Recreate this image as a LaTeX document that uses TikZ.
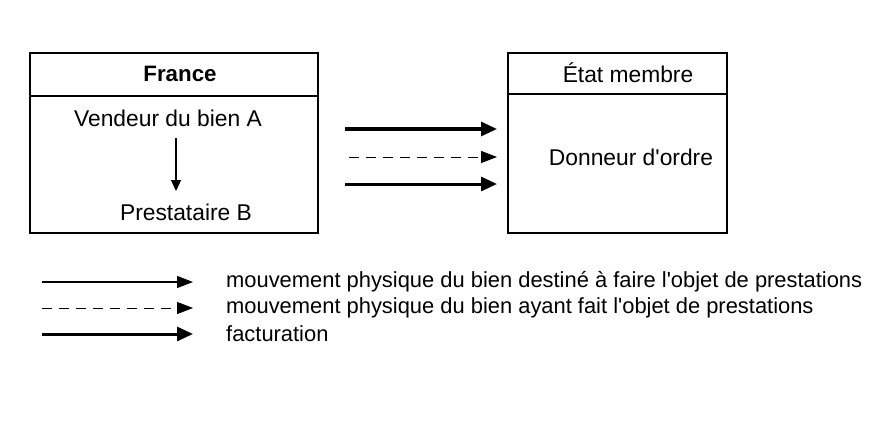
\documentclass[tikz,border=0pt]{standalone}
\usepackage{fontspec}
\setmainfont{Liberation Sans}
\usetikzlibrary{arrows.meta}

\tikzset{
  lbl/.style={inner sep=0pt, font=\fontsize{22.8}{26}\selectfont},
  leglbl/.style={inner sep=0pt, anchor=west, font=\fontsize{21.9}{26}\selectfont},
  thinarrow/.style={line width=1.2pt, -{Triangle[length=16pt,width=12pt]}},
  dasharrow/.style={line width=1pt, dash pattern=on 10pt off 7pt, -{Triangle[length=16pt,width=12pt]}},
  thickarrow/.style={line width=3pt, -{Triangle[length=16pt,width=14pt]}}
}

\begin{document}
\begin{tikzpicture}[x=1pt,y=-1pt]
\useasboundingbox (0,0) rectangle (896,425);

% France
\draw[line width=2.5pt] (30,53) rectangle (318,233);
\draw[line width=1.8pt] (30,96) -- (318,96);
\node[lbl, font=\fontsize{22.3}{26}\selectfont\bfseries] (france) at (180,74) {France};
\node[lbl] (vendeur) at (168,118) {Vendeur du bien A};
\node[lbl] (prest) at (186,212) {Prestataire B};
\coordinate (vbas) at (176,138);
\coordinate (vhaut) at (176,191);
\draw[line width=1.2pt, -{Triangle[length=11pt,width=10pt]}] (vbas) -- (vhaut);

% Etat membre
\draw[line width=2.5pt] (508,53) rectangle (727,233);
\draw[line width=1.8pt] (508,94) -- (727,94);
\node[lbl] (etat) at (628,73) {État membre};
\node[lbl] (donneur) at (631,157) {Donneur d\textquotesingle ordre};

% fleches
\coordinate (a1) at (345,129); \coordinate (b1) at (497,129);
\coordinate (a2) at (349,157); \coordinate (b2) at (497,157);
\coordinate (a3) at (345,184); \coordinate (b3) at (497,184);
\draw[thickarrow] (a1) -- (b1);
\draw[dasharrow] (a2) -- (b2);
\draw[thickarrow] (a3) -- (b3);

% legende
\node[leglbl] (leg1) at (226,282) {mouvement physique du bien destiné à faire l\textquotesingle objet de prestations};
\node[leglbl] (leg2) at (226,308) {mouvement physique du bien ayant fait l\textquotesingle objet de prestations};
\node[leglbl] (leg3) at (226,334) {facturation};
\coordinate (l1) at (42,282);
\coordinate (l2) at (42,308);
\coordinate (l3) at (42,334);
\draw[thinarrow] (l1) -- (193,282);
\draw[dasharrow] (l2) -- (193,308);
\draw[thickarrow] (l3) -- (193,334);
\end{tikzpicture}
\end{document}
